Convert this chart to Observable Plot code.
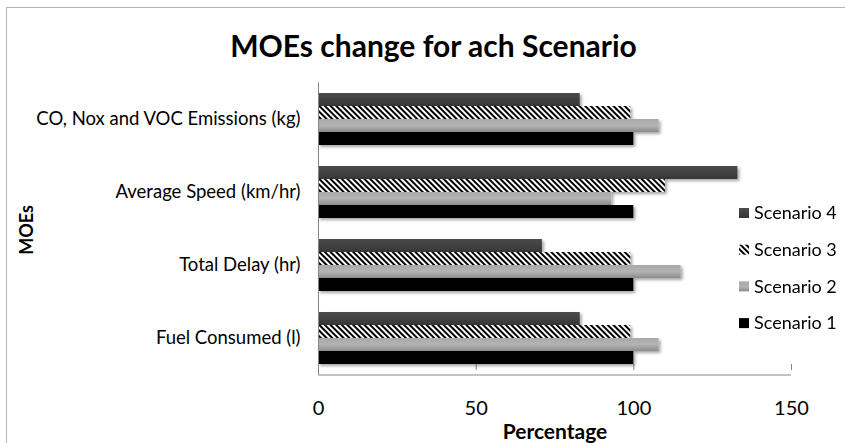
<!DOCTYPE html>
<html><head><meta charset="utf-8">
<script src="https://cdn.jsdelivr.net/npm/d3@7"></script>
<script src="https://cdn.jsdelivr.net/npm/@observablehq/plot@0.6"></script>
<style>
body{margin:0;background:#fff;font-family:Lato,sans-serif;}
#wrap{position:relative;width:845px;height:443px;overflow:hidden;background:#fff;}
#frame{position:absolute;left:6px;top:7px;width:900px;height:500px;border:1px solid #b4b4b4;}
#title{position:absolute;left:0;width:845px;top:25px;text-align:center;font-weight:bold;font-size:30px;line-height:40px;padding-left:22px;box-sizing:border-box;}
#spacer{height:60px;}
#xlabel{position:absolute;left:455px;width:200px;top:417px;text-align:center;font-weight:bold;font-size:21px;line-height:28px;}
#ylabel{position:absolute;left:26px;top:230px;transform:translate(-50%,-50%) rotate(-90deg);font-weight:bold;font-size:18px;line-height:22px;white-space:nowrap;}
#chart{position:relative;}
g[aria-label^="x-axis"] path, g[aria-label^="x-axis"] line{stroke:#878787;}
g[aria-label^="x-axis"] text{font-size:20px;}
g[aria-label^="fy-axis"] text{font-size:18.5px;}
</style>
</head><body>
<div id="wrap">
<div id="frame"></div>
<div id="title">MOEs change for ach Scenario</div>
<div id="spacer"></div>
<div id="chart"></div>
<div id="xlabel">Percentage</div>
<div id="ylabel">MOEs</div>
</div>
<script>
const categories = ["CO, Nox and VOC Emissions (kg)", "Average Speed (km/hr)", "Total Delay (hr)", "Fuel Consumed (l)"];
const scenarios = ["Scenario 4", "Scenario 3", "Scenario 2", "Scenario 1"];
const scenario1 = [100, 100, 100, 100];
const scenario2 = [108, 93, 115, 108];
const scenario3 = [99, 110, 99, 99];
const scenario4 = [83, 133, 71, 83];
const xTicks = [0, 50, 100, 150];

const seriesValues = {"Scenario 1": scenario1, "Scenario 2": scenario2, "Scenario 3": scenario3, "Scenario 4": scenario4};
const fills = {"Scenario 1": "#000000", "Scenario 2": "url(#grad2)", "Scenario 3": "url(#hatch3)", "Scenario 4": "url(#grad4)"};

const rows = [];
for (const s of scenarios) categories.forEach((c, i) => rows.push({category: c, scenario: s, value: seriesValues[s][i]}));

const plot = Plot.plot({
  width: 845, height: 383,
  marginLeft: 318, marginRight: 54, marginTop: 22, marginBottom: 68,
  style: {fontFamily: "Lato, sans-serif", fontSize: "17px", color: "#000", background: "transparent", overflow: "visible"},
  x: {domain: [0, 150], ticks: xTicks, tickSize: 6, tickPadding: 30, label: null, tickFormat: d => String(d)},
  y: {domain: scenarios, padding: 0, axis: null},
  fy: {domain: categories, paddingInner: 0.29, paddingOuter: 0.145, axis: "left", tickSize: 0, tickPadding: 18, label: null},
  marks: [
    ...scenarios.map(s => Plot.barX(rows.filter(r => r.scenario === s), {x: "value", y: "scenario", fy: "category", fill: fills[s]})),
    Plot.ruleX([0], {stroke: "#878787", insetTop: -10.7, insetBottom: -10.7})
  ]
});

const svg = d3.select(plot);
svg.insert("defs", ":first-child").html(`
  <linearGradient id="grad2" x1="0" y1="0" x2="0" y2="1">
    <stop offset="0" stop-color="#a9a9a9"/><stop offset="0.5" stop-color="#b3b3b3"/><stop offset="1" stop-color="#8c8c8c"/>
  </linearGradient>
  <linearGradient id="grad4" x1="0" y1="0" x2="0" y2="1">
    <stop offset="0" stop-color="#4c4c4c"/><stop offset="1" stop-color="#363636"/>
  </linearGradient>
  <pattern id="hatch3" patternUnits="userSpaceOnUse" width="4" height="4" patternTransform="rotate(-45)">
    <rect width="4" height="4" fill="#fff"/><rect width="2" height="4" fill="#000"/>
  </pattern>
  <filter id="shadow" x="-5%" y="-20%" width="115%" height="160%">
    <feDropShadow dx="2" dy="2" stdDeviation="1.5" flood-color="#000" flood-opacity="0.35"/>
  </filter>`);
svg.selectAll('g[aria-label="bar"]').attr("filter", "url(#shadow)");

// x axis baseline
const xs = plot.scale("x");
svg.append("line")
  .attr("x1", xs.apply(0)).attr("x2", xs.apply(150))
  .attr("y1", 383 - 68).attr("y2", 383 - 68)
  .attr("stroke", "#878787");

// legend
const lg = svg.append("g").attr("font-family", "Lato, sans-serif").attr("font-size", 18).attr("text-anchor", "start");
scenarios.forEach((s, i) => {
  const y = 153 + i * 36.7;
  lg.append("rect").attr("x", 739).attr("y", y - 5).attr("width", 10).attr("height", 10).attr("fill", fills[s]);
  lg.append("text").attr("x", 754).attr("y", y).attr("dy", "0.35em").attr("fill", "#000").text(s);
});

document.getElementById("chart").append(plot);
</script>
</body></html>
